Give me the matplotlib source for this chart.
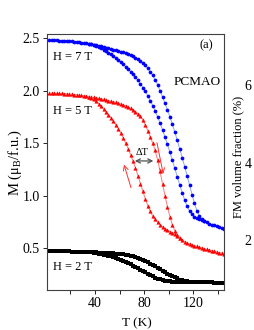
import numpy as np
import matplotlib
matplotlib.use('Agg')
import matplotlib.pyplot as plt
from matplotlib.ticker import MultipleLocator

plt.rcParams['font.family'] = ['Liberation Serif', 'DejaVu Serif']
plt.rcParams['mathtext.fontset'] = 'custom'
plt.rcParams['mathtext.rm'] = 'Liberation Serif'
plt.rcParams['mathtext.it'] = 'Liberation Serif:italic'

# ── data ─────────────────────────────────────────────────────
temp = [3, 5, 7, 9, 11, 13, 15, 17, 19, 21, 23, 25, 27, 29, 31, 33, 35, 37, 39, 41,
        43, 45, 47, 49, 51, 53, 55, 57, 59, 61, 63, 65, 67, 69, 71, 73, 75, 77, 79, 81,
        83, 85, 87, 89, 91, 93, 95, 97, 99, 101, 103, 105, 107, 109, 111, 113, 115, 117,
        119, 121, 123, 125, 127, 129, 131, 133, 135, 137, 139, 141, 143, 145]

# H = 7 T, warming branch (upper) and cooling branch (from 35 K)
m7_warm = [2.480, 2.480, 2.480, 2.479, 2.478, 2.477, 2.476, 2.474, 2.472, 2.470,
           2.467, 2.464, 2.461, 2.458, 2.454, 2.450, 2.446, 2.442, 2.437, 2.432,
           2.427, 2.422, 2.416, 2.410, 2.404, 2.397, 2.390, 2.385, 2.380, 2.373,
           2.366, 2.358, 2.349, 2.339, 2.328, 2.315, 2.300, 2.283, 2.263, 2.240,
           2.213, 2.182, 2.146, 2.104, 2.056, 2.000, 1.940, 1.880, 1.817, 1.750,
           1.679, 1.604, 1.526, 1.445, 1.362, 1.277, 1.190, 1.100, 1.010, 0.925,
           0.855, 0.805, 0.775, 0.757, 0.744, 0.733, 0.724, 0.716, 0.708, 0.700,
           0.693, 0.686]
m7_cool = [2.446, 2.442, 2.434, 2.426, 2.416, 2.404, 2.391, 2.377, 2.362, 2.346,
           2.329, 2.311, 2.292, 2.272, 2.251, 2.229, 2.206, 2.181, 2.155, 2.127,
           2.097, 2.065, 2.030, 1.992, 1.951, 1.906, 1.858, 1.806, 1.750, 1.690,
           1.626, 1.558, 1.487, 1.413, 1.337, 1.259, 1.180, 1.102, 1.027, 0.958,
           0.898, 0.853, 0.822, 0.800, 0.785, 0.777, 0.770, 0.757]

# H = 5 T
m5_warm = [1.976, 1.976, 1.976, 1.975, 1.974, 1.973, 1.972, 1.970, 1.968, 1.966,
           1.963, 1.960, 1.957, 1.954, 1.950, 1.946, 1.942, 1.938, 1.935, 1.932,
           1.927, 1.922, 1.917, 1.912, 1.906, 1.900, 1.894, 1.888, 1.881, 1.874,
           1.866, 1.857, 1.846, 1.833, 1.818, 1.801, 1.781, 1.757, 1.720, 1.670,
           1.620, 1.560, 1.500, 1.430, 1.340, 1.230, 1.110, 1.000, 0.890, 0.800,
           0.720, 0.665, 0.625, 0.597, 0.577, 0.562, 0.550, 0.540, 0.531, 0.523,
           0.515, 0.508, 0.501, 0.494, 0.487, 0.481, 0.475, 0.469, 0.463, 0.457,
           0.451, 0.445]
m5_cool = [1.942, 1.934, 1.920, 1.900, 1.877, 1.852, 1.826, 1.800, 1.772, 1.742,
           1.710, 1.675, 1.637, 1.596, 1.551, 1.502, 1.448, 1.390, 1.328, 1.261,
           1.190, 1.115, 1.040, 0.968, 0.903, 0.849, 0.806, 0.772, 0.745, 0.722,
           0.703, 0.686, 0.671, 0.657, 0.644, 0.632, 0.615, 0.597]

# H = 2 T
m2_warm = [0.470, 0.470, 0.470, 0.469, 0.469, 0.468, 0.468, 0.467, 0.467, 0.466,
           0.465, 0.465, 0.464, 0.463, 0.463, 0.462, 0.461, 0.460, 0.459, 0.458,
           0.457, 0.456, 0.455, 0.454, 0.452, 0.451, 0.449, 0.447, 0.445, 0.443,
           0.440, 0.437, 0.433, 0.428, 0.422, 0.415, 0.407, 0.398, 0.388, 0.377,
           0.365, 0.352, 0.339, 0.325, 0.311, 0.297, 0.283, 0.269, 0.256, 0.243,
           0.231, 0.220, 0.210, 0.200, 0.192, 0.186, 0.182, 0.179, 0.177, 0.176,
           0.175, 0.174, 0.174, 0.173, 0.173, 0.172, 0.172, 0.171, 0.171, 0.170,
           0.170, 0.170]
m2_cool = [0.461, 0.458, 0.455, 0.451, 0.447, 0.443, 0.438, 0.433, 0.427, 0.421,
           0.414, 0.406, 0.397, 0.388, 0.378, 0.367, 0.356, 0.344, 0.332, 0.319,
           0.306, 0.293, 0.280, 0.267, 0.254, 0.241, 0.229, 0.218, 0.209, 0.201,
           0.195, 0.190, 0.186, 0.183, 0.181, 0.180, 0.179, 0.178, 0.178, 0.177,
           0.177, 0.176, 0.176, 0.176]

fm_ticks = [2, 4, 6]

# ── figure ───────────────────────────────────────────────────
fig = plt.figure(figsize=(2.55, 3.30), dpi=100)
ax = fig.add_axes([47/255, 40/330, 177/255, 256/330])

T = np.array(temp)
start = temp.index(35)

blue_kw = dict(color='#8aa6ff', lw=0.7, marker='o', ms=2.7, mfc='#0000ff', mec='#0000ff', mew=0)
red_kw = dict(color='#ff7a7a', lw=0.7, marker='^', ms=3.0, mfc='#ff0000', mec='#ff0000', mew=0)
black_kw = dict(color='black', lw=2.0, marker='s', ms=2.2, mew=0)

ax.plot(T, m7_warm, **blue_kw)
ax.plot(T[start:start + len(m7_cool)], m7_cool, **blue_kw)
ax.plot(T, m5_warm, **red_kw)
ax.plot(T[start:start + len(m5_cool)], m5_cool, **red_kw)
ax.plot(T, m2_warm, **black_kw)
ax.plot(T[start:start + len(m2_cool)], m2_cool, **black_kw)

ax.set_xlim(1, 145)
ax.set_ylim(0.1, 2.54)
ax.xaxis.set_major_locator(MultipleLocator(40))
ax.xaxis.set_minor_locator(MultipleLocator(20))
ax.yaxis.set_major_locator(MultipleLocator(0.5))
ax.yaxis.set_major_formatter(matplotlib.ticker.FormatStrFormatter('%.1f'))
ax.tick_params(which='both', direction='out', length=3, width=0.6,
               labelsize=10, pad=2, right=False, top=False)
for s in ax.spines.values():
    s.set_color('#404040')
    s.set_linewidth(0.8)

# annotations
ax.text(6, 2.32, 'H = 7 T', fontsize=9, va='center')
ax.text(6, 1.81, 'H = 5 T', fontsize=9, va='center')
ax.text(6, 0.32, 'H = 2 T', fontsize=9, va='center')
ax.text(131, 2.43, '(a)', fontsize=9, ha='center', va='center')
ax.text(123, 2.08, 'PCMAO', fontsize=9.5, ha='center', va='center')

ax.annotate('', xy=(63, 1.32), xytext=(70, 1.05),
            arrowprops=dict(arrowstyle='->,head_length=0.35,head_width=0.18',
                            color='#ff3030', lw=0.7))
ax.annotate('', xy=(96, 1.18), xytext=(90, 1.53),
            arrowprops=dict(arrowstyle='->,head_length=0.35,head_width=0.18',
                            color='#ff3030', lw=0.7))
ax.annotate('', xy=(72.5, 1.33), xytext=(87.5, 1.33),
            arrowprops=dict(arrowstyle='<->,head_length=0.3,head_width=0.15',
                            color='#505050', lw=0.9, shrinkA=0, shrinkB=0))
ax.text(78.5, 1.41, 'ΔT', fontsize=7.5, ha='center', va='center')

# right-hand scale (FM volume fraction)
ax2 = ax.twinx()
ax2.set_ylim(0.71, 7.32)
ax2.set_yticks(fm_ticks)
ax2.tick_params(axis='y', length=0, labelsize=10, pad=15)
for s in ax2.spines.values():
    s.set_visible(False)

fig.text(137/255, 1 - 323/330, 'T (K)', fontsize=9.5, ha='center', va='center')
fig.text(15/255, 1 - 163/330, 'M (μ$_\\mathregular{B}$/f.u.)', fontsize=10.5,
         rotation=90, ha='center', va='center')
fig.text(238/255, 1 - 157/330, 'FM volume fraction (%)', fontsize=9,
         rotation=90, ha='center', va='center')

fig.savefig('out.png', dpi=100)
